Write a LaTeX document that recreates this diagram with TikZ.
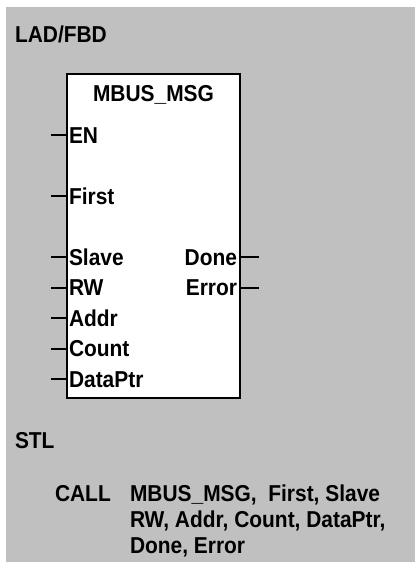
\documentclass[tikz,border=0pt]{standalone}
\usepackage{fontspec}
\setmainfont{Liberation Sans}
\newfontfamily\lblfont{Liberation Sans}[FakeStretch=0.91]
\definecolor{bggray}{RGB}{192,192,192}
\begin{document}
\begin{tikzpicture}[x=1pt,y=-1pt,
  lbl/.style={font=\lblfont\fontsize{23}{27}\selectfont\bfseries, inner sep=0pt, outer sep=0pt, text height=16.5pt, text depth=0pt},
  pin/.style={line width=2pt},
  blockbox/.style={draw, line width=2pt, fill=white, inner sep=0pt, outer sep=0pt, minimum width=173pt, minimum height=324pt}
]
\useasboundingbox (0,0) rectangle (415,569);
\fill[bggray] (6,7) rectangle (415,562);

\node[lbl, anchor=west] (lad) at (15,34) {LAD/FBD};

\node[blockbox] (blk) at (153.5,236) {};
\node[lbl] (title) at (153.5,93.5) {MBUS\_MSG};

% inputs
\node[lbl, anchor=west] (en) at (69,135) {EN};
\node[lbl, anchor=west] (first) at (69,196) {First};
\node[lbl, anchor=west] (slave) at (69,257) {Slave};
\node[lbl, anchor=west] (rw) at (69,287.5) {RW};
\node[lbl, anchor=west] (addr) at (69,318) {Addr};
\node[lbl, anchor=west] (count) at (69,348.5) {Count};
\node[lbl, anchor=west] (dataptr) at (69,379) {DataPtr};

\foreach \n/\y in {en/135, first/196, slave/257, rw/287.5, addr/318, count/348.5, dataptr/379}{
  \coordinate (\n-in) at (51,\y);
  \draw[pin] (\n-in) -- (\n-in -| blk.west);
}

% outputs
\node[lbl, anchor=east] (done) at (237,257) {Done};
\node[lbl, anchor=east] (error) at (237,287.5) {Error};
\foreach \n/\y in {done/257, error/287.5}{
  \coordinate (\n-out) at (259,\y);
  \draw[pin] (\n-out -| blk.east) -- (\n-out);
}

% STL
\node[lbl, anchor=west] (stl) at (15,440) {STL};
\node[lbl, anchor=west] (call) at (55,493) {CALL};
\node[lbl, anchor=west] (l1) at (130,493) {MBUS\_MSG,\ \ First, Slave};
\node[lbl, anchor=west] (l2) at (130,519) {RW, Addr, Count, DataPtr,};
\node[lbl, anchor=west] (l3) at (130,545) {Done, Error};
\end{tikzpicture}
\end{document}
